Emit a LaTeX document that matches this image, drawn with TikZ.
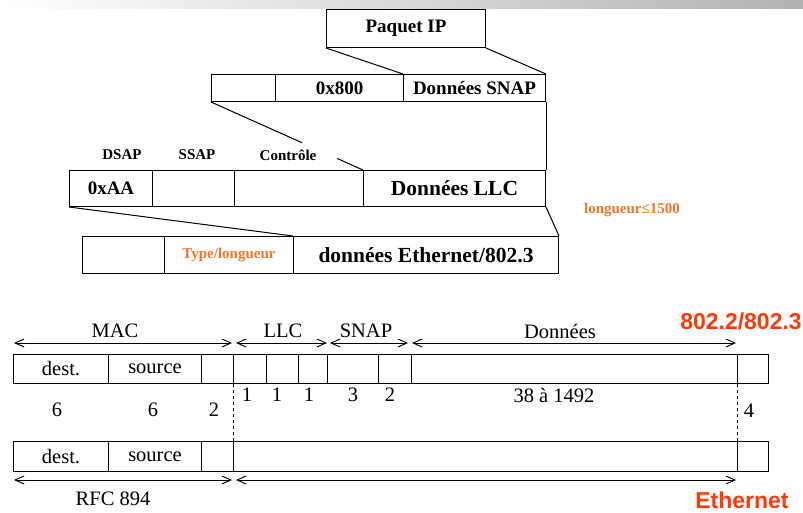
\documentclass[tikz,border=0pt]{standalone}
\usepackage{fontspec}
\setmainfont{Liberation Serif}
\newfontfamily\headsans{Liberation Sans}
\usetikzlibrary{calc,arrows.meta}
\definecolor{tagorange}{RGB}{244,118,38}
\definecolor{stdred}{RGB}{255,58,8}
\begin{document}
\begin{tikzpicture}[x=1pt,y=-1pt,
  cell/.style={draw, line width=1pt, inner sep=0pt, anchor=north west},
  hdr/.style={font=\bfseries\fontsize{19}{21}\selectfont},
  tag/.style={font=\bfseries\fontsize{15}{17}\selectfont},
  bighdr/.style={font=\bfseries\fontsize{21.5}{24}\selectfont},
  plain/.style={font=\fontsize{20.5}{23}\selectfont},
  stdname/.style={font=\headsans\bfseries\fontsize{23}{26}\selectfont, text=stdred},
  link/.style={line width=1pt},
  span/.style={line width=0.9pt, {Straight Barb[length=9pt,width=8pt]}-{Straight Barb[length=9pt,width=8pt]}},
  bound/.style={line width=1pt, dash pattern=on 3pt off 3pt}]
\useasboundingbox (0,0) rectangle (803,512);

% grey band along the top edge
\shade[left color=white, right color=black!30] (0,0) rectangle (803,8);

% ---------------- encapsulation: IP in SNAP in LLC in Ethernet ----------------
\node[cell, hdr, minimum width=159pt, minimum height=38pt] (ip) at (326,9) {Paquet IP};

\node[cell, minimum width=64pt,  minimum height=27pt] (s1) at (211,74) {};
\node[cell, hdr, minimum width=128pt, minimum height=27pt] (s2) at (275,74) {0x800};
\node[cell, hdr, minimum width=142pt, minimum height=27pt] (s3) at (403,74) {Données SNAP};

\node[cell, hdr, minimum width=83pt,  minimum height=36pt] (l1) at (69,170) {0xAA};
\node[cell, minimum width=82pt,  minimum height=36pt] (l2) at (152,170) {};
\node[cell, minimum width=129pt, minimum height=36pt] (l3) at (234,170) {};
\node[cell, bighdr, minimum width=182pt, minimum height=36pt] (l4) at (363,170) {Données LLC};

\node[tag] (dsap) at (122,155) {DSAP};
\node[tag] (ssap) at (197,155) {SSAP};
\node[tag] (ctrl) at (288,155) {Contrôle};

\node[cell, minimum width=82pt,  minimum height=37pt] (e1) at (82,236) {};
\node[cell, tag, text=tagorange, minimum width=129pt, minimum height=37pt] (e2) at (164,236) {Type/longueur};
\node[cell, bighdr, minimum width=265pt, minimum height=37pt] (e3) at (293,236) {données Ethernet/802.3};

\node[tag, text=tagorange] (maxlen) at (632,210) {longueur≤1500};

% expansion lines between levels
\draw[link] (ip.south west) -- (s3.north west);
\draw[link] (ip.south east) -- (s3.north east);
\draw[link] (s1.south west) -- ($(s1.south west)!0.6!(l4.north west)$);
\draw[link] ($(s1.south west)!0.83!(l4.north west)$) -- (l4.north west);
\draw[link] (s3.south east) -- (l4.north east);
\draw[link] (l1.south west) -- (e3.north west);
\draw[link] (l4.south east) -- (e3.north east);

% ---------------- 802.2/802.3 frame ----------------
\coordinate (mac0) at (14,343);  \coordinate (mac1) at (232,343);
\coordinate (llc0) at (236,343); \coordinate (llc1) at (327,343);
\coordinate (snp0) at (330,343); \coordinate (snp1) at (408,343);
\coordinate (dat0) at (412,343); \coordinate (dat1) at (736,343);
\draw[span] (mac0) -- (mac1);
\draw[span] (llc0) -- (llc1);
\draw[span] (snp0) -- (snp1);
\draw[span] (dat0) -- (dat1);
\node[plain] (macl) at (115,331) {MAC};
\node[plain] (llcl) at (283,331) {LLC};
\node[plain] (snpl) at (366,331) {SNAP};
\node[plain] (datl) at (560,331) {Données};
\node[stdname] (std1) at (741,321) {802.2/802.3};

\node[cell, plain, minimum width=95pt,  minimum height=29pt] (a1) at (13,354) {dest.};
\node[cell, plain, minimum width=93pt,  minimum height=29pt] (a2) at (108,354) {source};
\node[cell, minimum width=32pt,  minimum height=29pt] (a3) at (201,354) {};
\node[cell, minimum width=33pt,  minimum height=29pt] (a4) at (233,354) {};
\node[cell, minimum width=32pt,  minimum height=29pt] (a5) at (266,354) {};
\node[cell, minimum width=29pt,  minimum height=29pt] (a6) at (298,354) {};
\node[cell, minimum width=51pt,  minimum height=29pt] (a7) at (327,354) {};
\node[cell, minimum width=33pt,  minimum height=29pt] (a8) at (378,354) {};
\node[cell, minimum width=326pt, minimum height=29pt] (a9) at (411,354) {};
\node[cell, minimum width=31pt,  minimum height=29pt] (a10) at (737,354) {};

% field sizes in bytes
\node[plain] (n1) at (57,410) {6};
\node[plain] (n2) at (153,410) {6};
\node[plain] (n3) at (214,410) {2};
\node[plain] (n4) at (247,395) {1};
\node[plain] (n5) at (277,395) {1};
\node[plain] (n6) at (309,395) {1};
\node[plain] (n7) at (353,395) {3};
\node[plain] (n8) at (390,395) {2};
\node[plain] (n9) at (554,395) {38 à 1492};
\node[plain] (n10) at (749,411) {4};

% ---------------- Ethernet (RFC 894) frame ----------------
\node[cell, plain, minimum width=95pt,  minimum height=30pt] (b1) at (13,441) {dest.};
\node[cell, plain, minimum width=93pt,  minimum height=30pt] (b2) at (108,441) {source};
\node[cell, minimum width=32pt,  minimum height=30pt] (b3) at (201,441) {};
\node[cell, minimum width=504pt, minimum height=30pt] (b4) at (233,441) {};
\node[cell, minimum width=31pt,  minimum height=30pt] (b5) at (737,441) {};

\draw[bound] (a4.south west) -- (b4.north west);
\draw[bound] (a10.south west) -- (b5.north west);

\coordinate (rfc0) at (14,480);  \coordinate (rfc1) at (232,480);
\coordinate (eth0) at (236,480); \coordinate (eth1) at (736,480);
\draw[span] (rfc0) -- (rfc1);
\draw[span] (eth0) -- (eth1);
\node[plain] (rfcl) at (113,499) {RFC 894};
\node[stdname] (std2) at (742,500) {Ethernet};
\end{tikzpicture}
\end{document}
